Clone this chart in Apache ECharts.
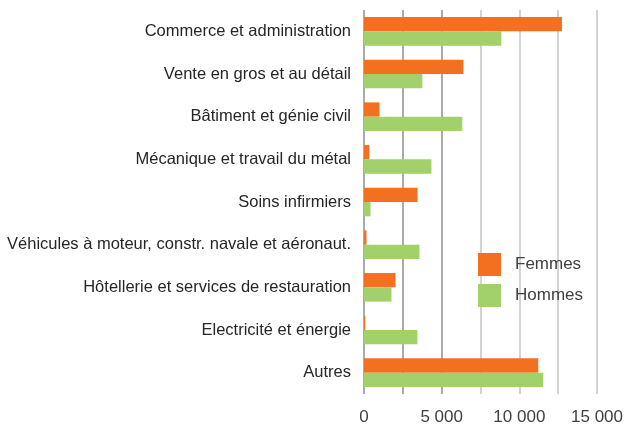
<!DOCTYPE html>
<html>
<head>
<meta charset="utf-8">
<script src="https://cdn.jsdelivr.net/npm/echarts@6/dist/echarts.min.js"></script>
<style>
  html, body { margin: 0; padding: 0; background: #fff; }
  .main { width: 626px; height: 426px; }
</style>
</head>
<body>
<div class="main"></div>
<script>
let categories = [
  'Commerce et administration',
  'Vente en gros et au détail',
  'Bâtiment et génie civil',
  'Mécanique et travail du métal',
  'Soins infirmiers',
  'Véhicules à moteur, constr. navale et aéronaut.',
  'Hôtellerie et services de restauration',
  'Electricité et énergie',
  'Autres'
];
let femmes = [12750, 6400, 1000, 350, 3450, 160, 2030, 80, 11220];
let hommes = [8840, 3760, 6330, 4340, 420, 3570, 1770, 3440, 11540];

let chartDom = document.querySelector('.main');
let myChart = echarts.init(chartDom);

let labelFont = '"Liberation Sans", sans-serif';

let option = {
  backgroundColor: '#fff',
  animation: false,
  grid: { left: 364, right: 28, top: 10, height: 386 },
  legend: {
    orient: 'vertical',
    left: 478,
    top: 253,
    padding: 0,
    itemWidth: 23,
    itemHeight: 23,
    itemGap: 8,
    icon: 'rect',
    textStyle: { fontFamily: labelFont, fontSize: 17, color: '#404040', padding: [0, 0, 0, 9] },
    data: ['Femmes', 'Hommes']
  },
  xAxis: {
    type: 'value',
    min: 0,
    max: 15000,
    interval: 2500,
    axisLine: { show: false },
    axisTick: { show: false },
    splitLine: {
      lineStyle: { color: ['#8f8f8f', '#8f8f8f', '#8f8f8f', '#c4c4c4', '#c4c4c4', '#c4c4c4', '#c4c4c4'], width: 1.5 }
    },
    axisLabel: {
      margin: 15,
      fontFamily: labelFont,
      fontSize: 17,
      color: '#404040',
      formatter: v => v % 5000 === 0 ? String(v).replace(/\B(?=(\d{3})+(?!\d))/g, ' ') : ''
    }
  },
  yAxis: {
    type: 'category',
    inverse: true,
    data: categories,
    axisLine: { show: false },
    axisTick: { show: false },
    axisLabel: { margin: 13, fontFamily: labelFont, fontSize: 16.5, color: '#262626' }
  },
  series: [
    { name: 'Femmes', type: 'bar', data: femmes, itemStyle: { color: '#F37021' }, barGap: 0, barCategoryGap: '33%' },
    { name: 'Hommes', type: 'bar', data: hommes, itemStyle: { color: '#A2D06B' }, barGap: 0, barCategoryGap: '33%' }
  ]
};

option && myChart.setOption(option);
</script>
</body>
</html>
